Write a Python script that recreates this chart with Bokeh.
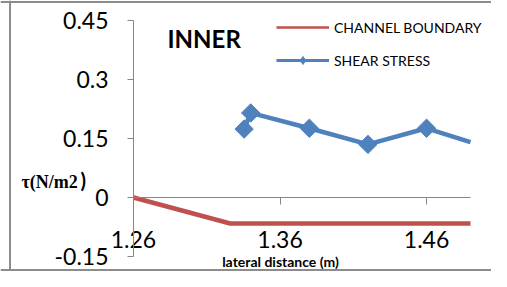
from bokeh.plotting import figure
from bokeh.models import (Range1d, FixedTicker, Label, Legend, LegendItem, Span)
from bokeh.embed import file_html
from bokeh.resources import INLINE
import numpy as np

# ---- data ----
boundary_x = [1.26, 1.326, 1.49]
boundary_y = [0.0, -0.066, -0.066]
shear_x = [1.3355, 1.34, 1.38, 1.42, 1.46, 1.49]
shear_y = [0.174, 0.215, 0.176, 0.135, 0.176, 0.141]   # last value: where the curve leaves the plot

x_ticks = [1.26, 1.36, 1.46]
x_tick_labels = ["1.26", "1.36", "1.46"]
y_ticks = [-0.15, 0.0, 0.15, 0.3, 0.45]
y_tick_labels = ["-0.15", "0", "0.15", "0.3", "0.45"]
x_lo, x_hi = 1.26, 1.49
y_lo, y_hi = -0.15, 0.45

RED = "#C0504D"
BLUE = "#4F81BD"
AXIS = "#868686"
BORDER = "#8c8c8c"
FONT = "Lato"

# ---- layout (pixels inside the figure) ----
W, H = 491, 271
AX_L, AX_R = 133, 470      # pixel x of x_lo / x_hi
AX_T, AX_B = 20, 256       # pixel y of y_hi / y_lo
sx = (x_hi - x_lo) / (AX_R - AX_L)
sy = (y_hi - y_lo) / (AX_B - AX_T)
def dx(px):
    return x_lo + (px - AX_L) * sx
def dy(py):
    return y_hi - (py - AX_T) * sy

p = figure(width=W, height=H, output_backend="svg", toolbar_location=None,
           x_range=Range1d(dx(0), dx(W)), y_range=Range1d(dy(H), dy(0)),
           min_border=0, min_border_left=0, min_border_right=0,
           min_border_top=0, min_border_bottom=0)
p.outline_line_color = None
p.grid.visible = False
p.background_fill_color = "white"
p.border_fill_color = "white"

# chart-area border (right side lies outside the picture)
for loc, dim in ((dx(9.5), "height"), (dy(1.5), "width"), (dy(269.5), "width")):
    p.add_layout(Span(location=loc, dimension=dim, line_color=BORDER, line_width=2))

# axes
xa = p.xaxis[0]
xa.fixed_location = 0
xa.bounds = (x_lo, x_hi)
xa.ticker = FixedTicker(ticks=x_ticks)
xa.major_label_overrides = dict(zip(x_ticks, x_tick_labels))
xa.axis_line_color = AXIS
xa.major_tick_line_color = AXIS
xa.major_tick_out = 7
xa.major_tick_in = 0
xa.minor_tick_line_color = None
xa.major_label_standoff = 26
xa.major_label_text_font = FONT
xa.major_label_text_font_size = "23px"
xa.major_label_text_color = "black"

ya = p.yaxis[0]
ya.fixed_location = x_lo
ya.bounds = (y_lo, y_hi)
ya.ticker = FixedTicker(ticks=y_ticks)
ya.major_label_overrides = dict(zip(y_ticks, y_tick_labels))
ya.axis_line_color = AXIS
ya.major_tick_line_color = AXIS
ya.major_tick_out = 6
ya.major_tick_in = 0
ya.minor_tick_line_color = None
ya.major_label_standoff = 19
ya.major_label_text_font = FONT
ya.major_label_text_font_size = "23px"
ya.major_label_text_color = "black"

# data series
p.line(boundary_x, boundary_y, line_color=RED, line_width=4.5)
p.line(shear_x, shear_y, line_color=BLUE, line_width=4.5)
p.scatter(shear_x[:-1], shear_y[:-1], marker="square", angle=np.pi / 4, size=13,
          fill_color=BLUE, line_color=BLUE)

# legend-only renderers (thinner, as in the reference legend; nothing drawn in the plot)
nan = [np.nan]
leg_red = p.line(nan, nan, line_color=RED, line_width=2.5)
leg_blue = p.line(nan, nan, line_color=BLUE, line_width=3)
leg_mark = p.scatter(nan, nan, marker="diamond", size=13,
                     fill_color=BLUE, line_color=BLUE)
legend = Legend(items=[LegendItem(label="CHANNEL BOUNDARY", renderers=[leg_red]),
                       LegendItem(label="SHEAR STRESS", renderers=[leg_blue, leg_mark])],
                location=(276, 201), orientation="vertical",
                border_line_color=None, background_fill_alpha=0,
                padding=0, margin=0, glyph_width=53, glyph_height=20,
                label_height=20, spacing=13, label_standoff=5,
                label_text_font=FONT, label_text_font_size="14px",
                label_text_color="black")
p.add_layout(legend)

# texts
p.add_layout(Label(x=dx(167), y=dy(38), text="INNER",
                   text_font=FONT, text_font_style="bold", text_font_size="24px",
                   text_baseline="middle", text_color="black"))
p.add_layout(Label(x=dx(21), y=dy(181), text="τ(N/m2",
                   text_font="Liberation Serif", text_font_style="bold", text_font_size="18px",
                   text_baseline="middle", text_color="black"))
p.add_layout(Label(x=dx(80), y=dy(179), text=")",
                   text_font=FONT, text_font_style="bold", text_font_size="20px",
                   text_baseline="middle", text_color="black"))
p.add_layout(Label(x=dx(280), y=dy(261), text="lateral distance (m)",
                   text_font=FONT, text_font_style="bold", text_font_size="14px",
                   text_baseline="middle", text_align="center", text_color="black"))

open("out.html", "w").write(file_html(p, INLINE))
